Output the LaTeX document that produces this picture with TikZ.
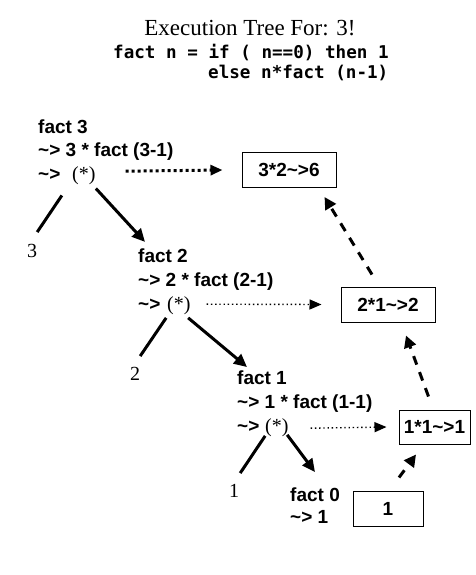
\documentclass[tikz,border=0pt]{standalone}
\usepackage{fontspec}
\setmainfont{Liberation Serif}
\newfontfamily\sansbfam{Liberation Sans}
\newfontfamily\monobfam{DejaVu Sans Mono}
\usetikzlibrary{arrows.meta}
\newcommand\mylabfont{\sansbfam\bfseries\fontsize{19}{23}\selectfont}
\newcommand\mynumfont{\fontsize{20}{24}\selectfont}
\newcommand\mycodefont{\monobfam\bfseries\fontsize{17.6}{20}\selectfont}
\tikzset{
  lbl/.style={font=\mylabfont, anchor=base west, inner sep=0pt},
  num/.style={font=\mynumfont, anchor=base west, inner sep=0pt},
  codeline/.style={font=\mycodefont, anchor=base west, inner sep=0pt},
  resbox/.style={draw, line width=1pt, inner sep=0pt, minimum height=35pt, font=\mylabfont},
  solidline/.style={line width=3pt},
  solidarrow/.style={line width=3pt, -{Triangle[length=13pt,width=12pt]}},
  thickdots/.style={line width=3pt, dash pattern=on 3pt off 3pt, -{Triangle[length=12pt,width=10pt]}},
  thindots/.style={line width=1.4pt, dash pattern=on 1.4pt off 2.8pt, -{Triangle[length=12pt,width=10pt]}},
  dasharrow/.style={line width=3pt, dash pattern=on 9pt off 8pt, -{Triangle[length=12pt,width=12pt]}},
}
\begin{document}
\begin{tikzpicture}[x=1pt,y=-1pt]
\useasboundingbox[fill=white] (0,0) rectangle (475,575);
% title
\node[font=\fontsize{23}{26}\selectfont, anchor=base, inner sep=0pt] (title) at (250,36) {Execution Tree For: 3!};
\node[codeline] (code1) at (113,59) {fact n = if ( n==0) then 1};
\node[codeline] (code2) at (208,79) {else n*fact (n-1)};
% fact 3
\node[lbl] (f3a) at (38,133) {fact 3};
\node[lbl] (f3b) at (38,156.5) {\textasciitilde> 3 * fact (3-1)};
\node[lbl] (f3c) at (38,180) {\textasciitilde>};
\node[num] (s3) at (72,180) {(*)};
\node[num] (n3) at (27,257) {3};
% fact 2
\node[lbl] (f2a) at (138,262.5) {fact 2};
\node[lbl] (f2b) at (138,286) {\textasciitilde> 2 * fact (2-1)};
\node[lbl] (f2c) at (138,310) {\textasciitilde>};
\node[num] (s2) at (167,310) {(*)};
\node[num] (n2) at (130,380) {2};
% fact 1
\node[lbl] (f1a) at (237,384) {fact 1};
\node[lbl] (f1b) at (237,408) {\textasciitilde> 1 * fact (1-1)};
\node[lbl] (f1c) at (237,432) {\textasciitilde>};
\node[num] (s1) at (265,432) {(*)};
\node[num] (n1) at (229,497) {1};
% fact 0
\node[lbl] (f0a) at (290,501) {fact 0};
\node[lbl] (f0b) at (290,523) {\textasciitilde> 1};
% result boxes
\node[resbox, minimum width=94pt] (b6) at (289,170) {3*2\textasciitilde>6};
\node[resbox, minimum width=94pt] (b2) at (388,304.5) {2*1\textasciitilde>2};
\node[resbox, minimum width=71pt, minimum height=34pt] (b1) at (434.5,427) {1*1\textasciitilde>1};
\node[resbox, minimum width=70pt] (b0) at (388,508.5) {1};
% tree lines
\draw[solidline] ([shift={(-22,11)}]s3.south) -- ([shift={(5,-11.5)}]n3.north);
\draw[solidarrow] ([shift={(12,4)}]s3.south) -- ([shift={(7,-6.6)}]f2a.north west);
\draw[solidline] ([shift={(-12.7,3.4)}]s2.south) -- ([shift={(5,-10.5)}]n2.north);
\draw[solidarrow] ([shift={(9.3,3.4)}]s2.south) -- ([shift={(10,-3)}]f1a.north west);
\draw[solidline] ([shift={(-11.7,-0.6)}]s1.south) -- ([shift={(6,-10.5)}]n1.north);
\draw[solidarrow] ([shift={(10.3,-1.6)}]s1.south) -- ([shift={(25,-15)}]f0a.north west);
% dotted arrows
\draw[thickdots] ([shift={(30,-4)}]s3.east) -- ([shift={(-19,0)}]b6.west);
\draw[thindots] ([shift={(16,-1)}]s2.east) -- ([shift={(-19,0)}]b2.west);
\draw[thindots] ([shift={(22,1)}]s1.east) -- ([shift={(-12,0)}]b1.west);
% dashed arrows
\draw[dasharrow] ([shift={(11,-13)}]b0.north) -- ([shift={(-18.5,10)}]b1.south);
\draw[dasharrow] ([shift={(-6,-13)}]b1.north) -- ([shift={(18,13)}]b2.south);
\draw[dasharrow] ([shift={(-16,-12)}]b2.north) -- ([shift={(-12,9)}]b6.south east);
\end{tikzpicture}
\end{document}
